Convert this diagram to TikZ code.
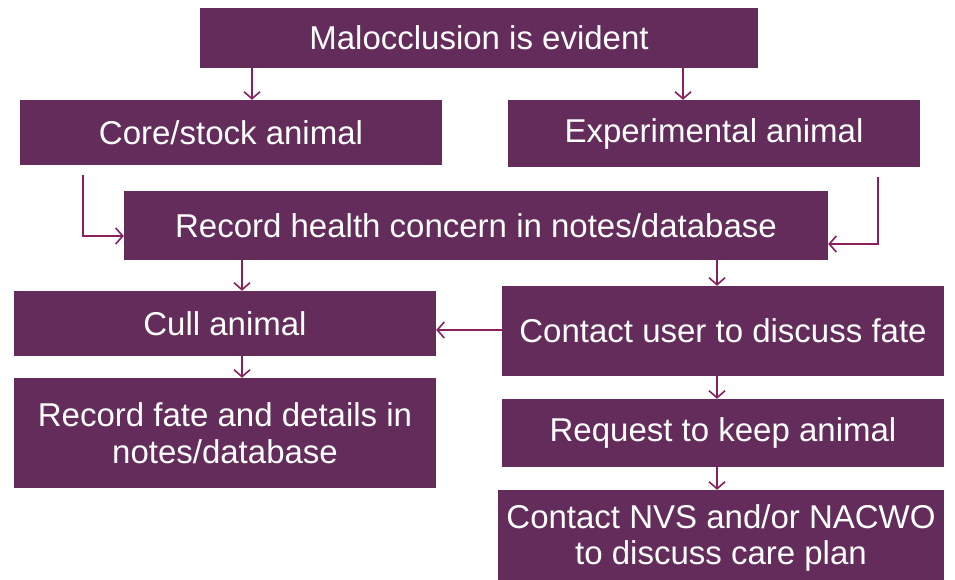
\documentclass[tikz,border=0pt]{standalone}
\usepackage{fontspec}
\setmainfont{Liberation Sans}
\usetikzlibrary{arrows.meta}
\definecolor{boxpurple}{HTML}{642C5B}
\definecolor{linkpurple}{HTML}{8A1F5E}
\tikzset{
  flowbox/.style={fill=boxpurple, draw=none, text=white, inner sep=0pt,
    align=center, font=\fontsize{33}{36.5}\selectfont},
  link/.style={draw=linkpurple, line width=1.8pt,
    -{Straight Barb[length=7pt,width=16pt,line width=1.6pt]}}
}
\begin{document}
\begin{tikzpicture}[x=1pt,y=-1pt]
\useasboundingbox (0,0) rectangle (955,579);

% boxes: given by centre and size
\node[flowbox, minimum width=558pt, minimum height=60pt] (mal) at (479,38) {Malocclusion is evident};
\node[flowbox, minimum width=422pt, minimum height=65pt] (core) at (231,132.5) {Core/stock animal};
\node[flowbox, minimum width=412pt, minimum height=67pt] (exp) at (714,133.5) {Experimental animal};
\node[flowbox, minimum width=704pt, minimum height=69pt] (rec) at (476,225.5) {Record health concern in notes/database};
\node[flowbox, minimum width=422pt, minimum height=65pt] (cull) at (225,323.5) {Cull animal};
\node[flowbox, minimum width=442pt, minimum height=90pt] (contact) at (723,331) {Contact user to discuss fate};
\node[flowbox, minimum width=422pt, minimum height=110pt] (fate) at (225,433) {Record fate and details in\\notes/database};
\node[flowbox, minimum width=442pt, minimum height=68pt] (keep) at (723,433) {Request to keep animal};
% the last box runs past the lower edge of the page
\node[flowbox, minimum width=446pt, minimum height=96pt] (nvs) at (721,538) {Contact NVS and/or NACWO\\to discuss care plan};

% guide coordinates for the connectors
\coordinate (xl) at (252,0);
\coordinate (xr) at (683,0);
\coordinate (cs) at (83,175);
\coordinate (cb) at (83,236);
\coordinate (es) at (878,177);
\coordinate (eb) at (878,244);
\coordinate (xa) at (242,0);
\coordinate (xb) at (717,0);
\coordinate (ym) at (0,330);

% connectors
\draw[link] (mal.south -| xl) -- (core.north -| xl);
\draw[link] (mal.south -| xr) -- (exp.north -| xr);
\draw[link] (cs) -- (cb) -- (rec.west |- cb);
\draw[link] (es) -- (eb) -- (rec.east |- eb);
\draw[link] (rec.south -| xa) -- (cull.north -| xa);
\draw[link] (rec.south -| xb) -- (contact.north -| xb);
\draw[link] (contact.west |- ym) -- (cull.east |- ym);
\draw[link] (cull.south -| xa) -- (fate.north -| xa);
\draw[link] (contact.south -| xb) -- (keep.north -| xb);
\draw[link] (keep.south -| xb) -- (nvs.north -| xb);
\end{tikzpicture}
\end{document}
